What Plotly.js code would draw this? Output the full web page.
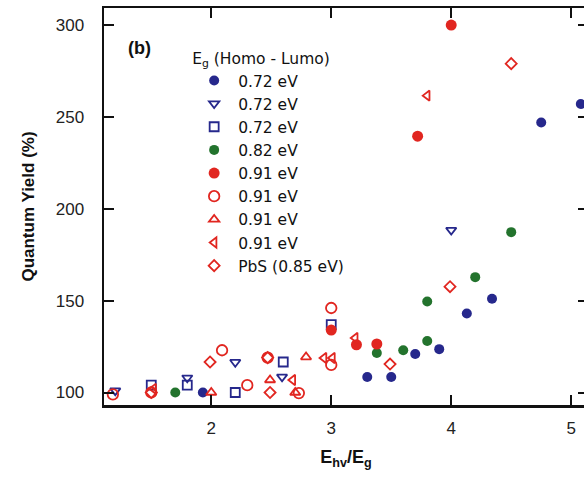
<!DOCTYPE html>
<html>
<head>
<meta charset="utf-8">
<script src="https://cdn.plot.ly/plotly-3.0.1.min.js"></script>
<style>
html,body{margin:0;padding:0;overflow:hidden;background:#fff;}
#chart{width:588px;height:478px;}
</style>
</head>
<body>
<div id="chart"></div>
<script>
// Series data (x = E_hv/E_g, y = Quantum Yield %)
var seriesNames = ["0.72 eV","0.72 eV","0.72 eV","0.82 eV","0.91 eV","0.91 eV","0.91 eV","0.91 eV","PbS (0.85 eV)"];

var blueFilledX = [1.93, 3.30, 3.50, 3.70, 3.90, 4.13, 4.34, 4.75, 5.08];
var blueFilledY = [100, 108.4, 108.4, 121, 123.6, 143, 151, 247, 257];

var blueTriX = [1.20, 1.80, 2.20, 2.59, 4.00];
var blueTriY = [101, 108, 116.5, 108.5, 188.4];

var blueSqX = [1.50, 1.80, 2.20, 2.60, 3.00];
var blueSqY = [104, 104, 100, 116.6, 137];

var greenX = [1.70, 3.38, 3.60, 3.80, 3.80, 4.20, 4.50];
var greenY = [100, 121.5, 123, 128, 149.5, 162.8, 187.3];

var redFilledX = [3.00, 3.21, 3.38, 3.72, 4.00];
var redFilledY = [134, 126, 126.4, 239.5, 300];

var redCircX = [1.18, 1.50, 2.09, 2.30, 2.47, 2.73, 3.00, 3.00];
var redCircY = [99, 100, 123, 104, 119, 99.7, 115, 146];

var redTriX = [2.00, 2.49, 2.70, 2.79];
var redTriY = [100, 106.8, 100, 119.3];

var redLeftX = [1.52, 2.68, 2.94, 3.01, 3.20, 3.80];
var redLeftY = [102, 106.8, 118.8, 118.8, 129.7, 261.6];

var pbsX = [1.50, 1.99, 2.47, 2.49, 3.49, 3.99, 4.50];
var pbsY = [100, 116.6, 119, 100, 115.5, 157.6, 279];

var xTicks = [2, 3, 4, 5];
var yTicks = [100, 150, 200, 250, 300];

var BLUE = "rgb(38,40,140)";
var GREEN = "rgb(35,115,45)";
var RED = "rgb(225,38,32)";

function tr(x, y, name, symbol, color, size, open) {
  var m = {symbol: symbol, size: size, color: color};
  m.line = {color: color, width: open ? 1.8 : 0};
  return {x: x, y: y, name: name, type: "scatter", mode: "markers", marker: m, cliponaxis: false};
}

var data = [
  tr(blueFilledX, blueFilledY, seriesNames[0], "circle", BLUE, 10, false),
  tr(blueTriX, blueTriY, seriesNames[1], "triangle-down-open", BLUE, 9, true),
  tr(blueSqX, blueSqY, seriesNames[2], "square-open", BLUE, 9, true),
  tr(greenX, greenY, seriesNames[3], "circle", GREEN, 10, false),
  tr(redFilledX, redFilledY, seriesNames[4], "circle", RED, 11, false),
  tr(redCircX, redCircY, seriesNames[5], "circle-open", RED, 10.5, true),
  tr(redTriX, redTriY, seriesNames[6], "triangle-up-open", RED, 9, true),
  tr(redLeftX, redLeftY, seriesNames[7], "triangle-left-open", RED, 9, true),
  tr(pbsX, pbsY, seriesNames[8], "diamond-open", RED, 8.5, true)
];

var axisFont = {family: "Liberation Sans, Arial, sans-serif", size: 17, color: "#222"};
var legFont = {family: "DejaVu Sans, sans-serif", size: 15.5, color: "#111"};

var layout = {
  width: 588, height: 478,
  margin: {l: 104, r: 0, t: 8, b: 73, pad: 0},
  paper_bgcolor: "#fff", plot_bgcolor: "#fff",
  font: axisFont,
  showlegend: true,
  legend: {
    x: 0.178, y: 0.91, xanchor: "left", yanchor: "top",
    bgcolor: "rgba(0,0,0,0)", borderwidth: 0,
    font: legFont, itemwidth: 38,
    title: {text: "E<sub>g</sub> (Homo - Lumo)", side: "top", font: legFont},
    tracegroupgap: 0
  },
  xaxis: {
    range: [1.106, 5.14], tickvals: xTicks, ticktext: xTicks.map(String),
    ticks: "inside", ticklen: 10, tickwidth: 2, tickcolor: "#111",
    showline: true, linewidth: 2.5, linecolor: "#111", mirror: "ticks",
    showgrid: false, zeroline: false, ticklabelstandoff: 6,
    tickfont: axisFont,
    title: {text: "<b>E<sub>hv</sub>/E<sub>g</sub></b>", font: {family: "Liberation Sans, Arial, sans-serif", size: 18, color: "#111"}, standoff: 14}
  },
  yaxis: {
    range: [93.2, 309.3], tickvals: yTicks, ticktext: yTicks.map(String),
    ticks: "inside", ticklen: 10, tickwidth: 2, tickcolor: "#111",
    showline: true, linewidth: 2.5, linecolor: "#111", mirror: "ticks",
    showgrid: false, zeroline: false, ticklabelstandoff: 14,
    tickfont: axisFont,
    title: {text: "<b>Quantum Yield (%)</b>", font: {family: "Liberation Sans, Arial, sans-serif", size: 17, color: "#111"}, standoff: 17}
  },
  annotations: [{
    text: "<b>(b)</b>", xref: "paper", yref: "paper", x: 0.045, y: 0.9,
    xanchor: "left", yanchor: "middle", showarrow: false,
    font: {family: "Liberation Sans, Arial, sans-serif", size: 18, color: "#111"}
  }]
};

Plotly.newPlot("chart", data, layout, {displayModeBar: false, staticPlot: true});
</script>
</body>
</html>
